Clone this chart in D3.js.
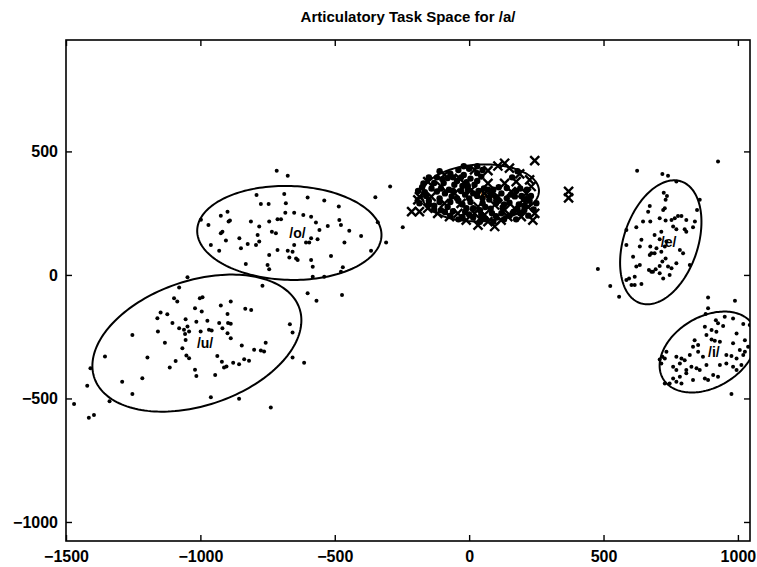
<!DOCTYPE html>
<html>
<head>
<meta charset="utf-8">
<script src="https://cdn.jsdelivr.net/npm/d3@7"></script>
<style>
  html, body { margin: 0; padding: 0; background: #fff; }
  svg { display: block; }
  text { font-family: "Liberation Sans", Arial, Helvetica, sans-serif; }
</style>
</head>
<body>
<svg id="chart" width="757" height="567"></svg>
<script>
// Axis ticks
const xTicks = [-1500, -1000, -500, 0, 500, 1000];
const yTicks = [-1000, -500, 0, 500];
const xDomain = [-1500, 1045];
const yDomain = [-1077, 951];

// Vowel categories and their fitted ellipses (centre, semi-axes, tilt in degrees)
const vowels = ["/a/", "/o/", "/u/", "/e/", "/i/"];
const ellipseCx = [42, -669, -1013, 713, 889];
const ellipseCy = [332, 170, -276, 132, -312];
const ellipseA = [218, 343, 407, 258, 200];
const ellipseB = [115, 190, 250, 139, 139];
const ellipseTilt = [3, -2, 22, 74, 37];

// Token measurements, one array per vowel
const aCrosses = [[244,463],[370,338],[370,312],[132,452],[150,432],[188,409],[225,385],[231,358],[-154,378],[-185,317],[-191,304],[-185,256],[-154,270],[33,202],[95,196],[237,222],[244,249],[219,276],[200,303],[169,270],[144,236],[194,236],[119,222],[70,216],[-11,222],[-73,236],[-117,249],[-141,317],[-104,358],[-36,391],[20,425],[70,422],[107,441],[175,378],[213,330],[157,337],[107,317],[57,330],[8,344],[-54,330],[-92,290],[-30,290],[33,276],[95,283],[132,263],[20,249],[-42,249],[57,243],[-92,405],[70,371],[132,371],[-214,256]];
const aDots = [[-120,395],[-70,410],[-20,405],[30,412],[-140,350],[-95,372],[-45,380],[5,390],[45,398],[160,395],[-165,335],[-120,338],[-75,345],[-25,360],[20,365],[55,350],[90,345],[140,352],[190,350],[-150,300],[-110,310],[-65,318],[-15,325],[30,320],[75,305],[120,330],[170,318],[215,305],[-130,280],[-80,275],[-40,300],[5,295],[50,290],[110,300],[150,292],[185,285],[225,300],[-105,262],[-60,258],[-10,270],[40,262],[80,268],[120,250],[165,255],[205,262],[-70,240],[-25,235],[15,232],[60,228],[100,238],[150,240],[190,250],[-45,310],[-5,345],[-90,330],[35,340],[80,325],[140,310],[0,310],[-130,265],[-160,320],[45,230],[130,285],[-60,395],[-10,375],[-100,388],[15,270],[60,275],[100,290],
  [-170,370],[-150,395],[-110,420],[-40,425],[0,430],[50,425],[-130,372],[-80,392],[-30,395],[-55,365],[-5,360],[30,380],[180,420],[215,345],[230,320],[250,290],[240,265],[220,240],[175,225],[130,225],[90,215],[40,215],[0,245],[-40,225],[-90,255],[-150,285],[-185,290],[-190,340],[-175,355],[-110,295],[-70,295],[-25,285],[-60,340],[-105,350],[110,355],[175,340],[195,320],[155,325],[100,315],[50,310],[15,330],[-30,340],[70,345],[125,270],[85,250],[45,245],[-15,255],[180,265],[205,280],[-20,440],[30,440]];
const strayDots = [[-247,193],[-402,158],[-294,358],[-349,314],[-309,131],[-340,213],[-365,98]];
const oTokens = [[-716,422],[-675,401],[-791,324],[-688,328],[-601,313],[-539,301],[-485,277],[-775,287],[-746,287],[-682,290],[-899,256],[-924,240],[-684,252],[-651,252],[-617,243],[-588,236],[-483,222],[-895,216],[-890,220],[-812,216],[-744,216],[-713,225],[-700,225],[-570,212],[-526,198],[-477,202],[-446,179],[-970,202],[-998,223],[-918,175],[-924,169],[-781,196],[-734,175],[-719,169],[-557,182],[-855,148],[-905,139],[-787,162],[-781,135],[-588,148],[-564,144],[-607,131],[-595,131],[-961,121],[-824,125],[-793,121],[-651,121],[-464,131],[-930,98],[-849,108],[-713,101],[-675,98],[-657,94],[-744,81],[-669,71],[-644,67],[-638,60],[-514,77],[-831,44],[-750,40],[-744,23],[-588,60],[-582,33],[-470,31],[-582,-7],[-539,-7],[-477,13]];
const uTokens = [[-992,-90],[-1002,-94],[-1098,-94],[-1086,-108],[-887,-108],[-924,-124],[-1020,-135],[-995,-148],[-833,-137],[-811,-142],[-1148,-152],[-1123,-159],[-1160,-175],[-899,-158],[-897,-195],[-887,-198],[-1055,-179],[-1015,-189],[-974,-185],[-930,-195],[-1104,-195],[-667,-200],[-657,-233],[-1079,-216],[-1061,-222],[-1048,-209],[-1042,-229],[-1057,-239],[-968,-222],[-958,-225],[-918,-216],[-899,-236],[-1253,-243],[-1158,-229],[-999,-229],[-887,-256],[-1055,-263],[-1132,-274],[-846,-286],[-757,-274],[-1067,-297],[-800,-303],[-775,-306],[-763,-310],[-1052,-326],[-1042,-337],[-1355,-330],[-1197,-334],[-937,-328],[-657,-334],[-614,-355],[-1092,-348],[-920,-351],[-837,-341],[-819,-347],[-878,-355],[-856,-362],[-1114,-375],[-912,-375],[-903,-371],[-1020,-384],[-1015,-409],[-945,-405],[-1216,-418],[-1291,-432],[-1253,-482],[-961,-495],[-856,-501],[-738,-537],[-1415,-578],[-1396,-567],[-1409,-378],[-1421,-449],[-1338,-511],[-1048,-9],[-1079,-51],[-769,-44],[-601,-74],[-568,-104],[-1470,-522],[-473,-81]];
const eTokens = [[625,422],[926,459],[719,409],[740,401],[771,378],[724,333],[736,320],[731,304],[728,270],[722,263],[672,279],[666,256],[858,304],[848,263],[777,239],[790,239],[709,229],[731,220],[753,222],[765,229],[808,222],[647,216],[674,216],[622,193],[759,196],[771,185],[802,185],[808,175],[833,193],[840,216],[585,182],[641,142],[690,162],[709,144],[715,175],[734,135],[585,121],[635,115],[674,115],[697,108],[728,115],[672,81],[690,88],[715,94],[796,88],[610,74],[784,101],[635,40],[669,20],[678,13],[694,23],[709,36],[719,54],[731,67],[740,34],[753,27],[771,47],[821,40],[622,34],[479,24],[595,-14],[616,-7],[709,7],[722,-14],[746,0],[585,-21],[604,-41],[641,-37],[616,-41],[525,-45],[558,-88],[889,-91],[989,-104],[678,88],[684,13]];
const iTokens = [[889,-135],[880,-158],[918,-183],[926,-196],[951,-169],[982,-176],[1020,-199],[877,-210],[945,-207],[902,-223],[920,-230],[883,-243],[839,-264],[902,-261],[914,-266],[933,-270],[995,-237],[982,-277],[833,-291],[852,-284],[1026,-264],[1038,-291],[1007,-304],[734,-311],[728,-338],[771,-331],[790,-338],[802,-345],[821,-324],[852,-311],[870,-331],[957,-324],[976,-328],[995,-338],[1020,-324],[1026,-311],[759,-372],[784,-358],[771,-385],[808,-385],[827,-372],[846,-378],[858,-385],[883,-365],[933,-365],[957,-358],[982,-372],[995,-385],[1013,-365],[759,-419],[784,-412],[808,-398],[833,-425],[877,-419],[889,-425],[908,-405],[926,-412],[746,-439],[771,-432],[790,-439],[728,-439],[976,-482],[1044,-203],[709,-342],[715,-358],[719,-331]];

const titleText = "Articulatory Task Space for /a/";

const svg = d3.select("#chart");
const plot = { left: 66, right: 750, top: 40, bottom: 541 };

const x = d3.scaleLinear().domain(xDomain).range([plot.left, plot.right]);
const y = d3.scaleLinear().domain(yDomain).range([plot.bottom, plot.top]);

// Title
svg.append("text")
  .attr("x", (plot.left + plot.right) / 2)
  .attr("y", 22)
  .attr("text-anchor", "middle")
  .attr("font-size", 15)
  .attr("font-weight", "bold")
  .text(titleText);

const clipId = "plot-clip";
svg.append("clipPath").attr("id", clipId)
  .append("rect")
  .attr("x", plot.left).attr("y", plot.top)
  .attr("width", plot.right - plot.left).attr("height", plot.bottom - plot.top);

const g = svg.append("g").attr("clip-path", `url(#${clipId})`);

// Ellipses traced in data space, then mapped through the scales
const line = d3.line().x(d => x(d[0])).y(d => y(d[1])).curve(d3.curveLinearClosed);
vowels.forEach((v, i) => {
  const phi = ellipseTilt[i] * Math.PI / 180;
  const pts = d3.range(0, 360, 2).map(deg => {
    const t = deg * Math.PI / 180;
    const ca = ellipseA[i] * Math.cos(t), sb = ellipseB[i] * Math.sin(t);
    return [ellipseCx[i] + ca * Math.cos(phi) - sb * Math.sin(phi),
            ellipseCy[i] + ca * Math.sin(phi) + sb * Math.cos(phi)];
  });
  g.append("path").attr("d", line(pts))
    .attr("fill", "none").attr("stroke", "#000").attr("stroke-width", 2);
});

// Vowel labels at each ellipse centre
vowels.forEach((v, i) => {
  g.append("text")
    .attr("x", x(ellipseCx[i]))
    .attr("y", y(ellipseCy[i]))
    .attr("dy", "0.35em")
    .attr("font-size", 14)
    .attr("font-weight", "bold")
    .text(v);
});

// Dense /a/ core tokens
g.append("g").selectAll("circle").data(aDots).join("circle")
  .attr("cx", d => x(d[0])).attr("cy", d => y(d[1]))
  .attr("r", 3.2).attr("fill", "#000");

// Dot tokens for the other vowels
const dotSets = [strayDots, oTokens, uTokens, eTokens, iTokens];
dotSets.forEach(set => {
  g.append("g").selectAll("circle").data(set).join("circle")
    .attr("cx", d => x(d[0])).attr("cy", d => y(d[1]))
    .attr("r", 2).attr("fill", "#000");
});

// Cross tokens for /a/
const s = 4.5;
g.append("g").selectAll("path").data(aCrosses).join("path")
  .attr("d", d => {
    const px = x(d[0]), py = y(d[1]);
    return `M${px - s},${py - s}L${px + s},${py + s}M${px - s},${py + s}L${px + s},${py - s}`;
  })
  .attr("stroke", "#000").attr("stroke-width", 2.4).attr("fill", "none");

// Frame and ticks (box with inward ticks on all sides)
const frame = svg.append("g");
frame.append("rect")
  .attr("x", plot.left).attr("y", plot.top)
  .attr("width", plot.right - plot.left).attr("height", plot.bottom - plot.top)
  .attr("fill", "none").attr("stroke", "#000").attr("stroke-width", 1.6);

const tickLen = 6;
const fmt = d3.format("d");

const xb = svg.append("g").attr("transform", `translate(0,${plot.bottom})`)
  .call(d3.axisBottom(x).tickValues(xTicks).tickSize(-tickLen).tickPadding(10).tickFormat(fmt));
const xt = svg.append("g").attr("transform", `translate(0,${plot.top})`)
  .call(d3.axisTop(x).tickValues(xTicks).tickSize(-tickLen).tickFormat(""));
const yl = svg.append("g").attr("transform", `translate(${plot.left},0)`)
  .call(d3.axisLeft(y).tickValues(yTicks).tickSize(-tickLen).tickPadding(8).tickFormat(fmt));
const yr = svg.append("g").attr("transform", `translate(${plot.right},0)`)
  .call(d3.axisRight(y).tickValues(yTicks).tickSize(-tickLen).tickFormat(""));

[xb, xt, yl, yr].forEach(ax => {
  ax.select(".domain").remove();
  ax.selectAll(".tick line").attr("stroke", "#000").attr("stroke-width", 1.4);
  ax.selectAll(".tick text")
    .attr("fill", "#000")
    .attr("font-size", 16)
    .attr("font-weight", "bold")
    .attr("font-family", "'Liberation Sans', Arial, sans-serif");
});
</script>
</body>
</html>
